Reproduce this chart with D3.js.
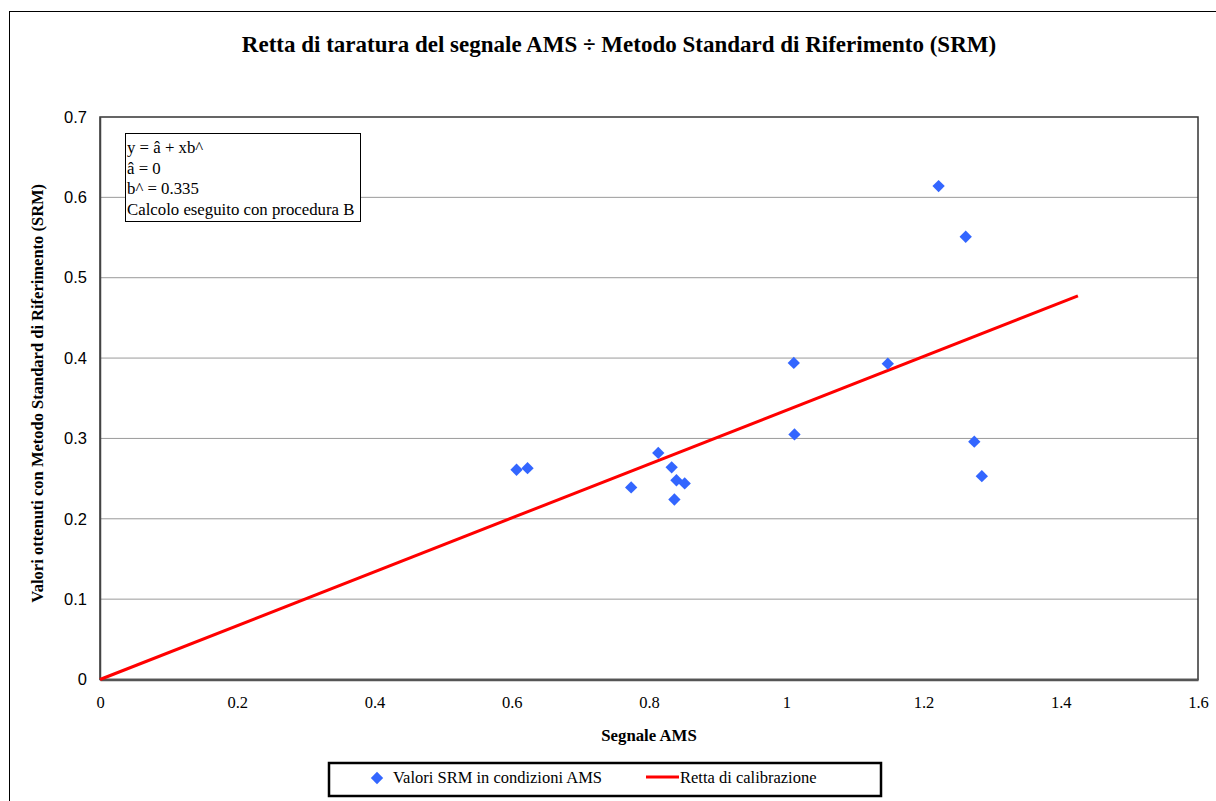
<!DOCTYPE html>
<html>
<head>
<meta charset="utf-8">
<script src="https://cdn.jsdelivr.net/npm/d3@7"></script>
<style>
  body { margin: 0; background: #fff; }
  svg { display: block; }
</style>
</head>
<body>
<svg id="chart" width="1216" height="801"></svg>
<script>
// ---- data ----
const signalAMS = [0.607, 0.623, 0.774, 0.8135, 0.833, 0.840, 0.852, 0.837, 1.011, 1.012, 1.148, 1.222, 1.2615, 1.274, 1.285];
const valuesSRM = [0.261, 0.263, 0.239, 0.282, 0.264, 0.248, 0.244, 0.224, 0.394, 0.305, 0.393, 0.614, 0.551, 0.296, 0.253];
const slope = 0.335;
const lineX = [0, 1.425];
const xTicks = [0, 0.2, 0.4, 0.6, 0.8, 1, 1.2, 1.4, 1.6];
const yTicks = [0, 0.1, 0.2, 0.3, 0.4, 0.5, 0.6, 0.7];
const noteLines = ["y = â + xb^", "â = 0", "b^ = 0.335", "Calcolo eseguito con procedura B"];
const legendLabels = ["Valori SRM in condizioni AMS", "Retta di calibrazione"];

const points = signalAMS.map((x, i) => ({ x: x, y: valuesSRM[i] }));
const fitLine = lineX.map(x => ({ x: x, y: slope * x }));

const serif = "'Liberation Serif', 'Times New Roman', serif";
const sans = "'Liberation Sans', Arial, sans-serif";

const svg = d3.select("#chart");

// outer chart frame
svg.append("rect")
    .attr("x", 9.5).attr("y", 11.5)
    .attr("width", 1230).attr("height", 820)
    .attr("fill", "#fff").attr("stroke", "#000").attr("stroke-width", 1);

const plot = { left: 100, right: 1198, top: 117, bottom: 679.5 };

const x = d3.scaleLinear().domain([0, 1.6]).range([plot.left, plot.right]);
const y = d3.scaleLinear().domain([0, 0.7]).range([plot.bottom, plot.top]);

// title
svg.append("text")
    .attr("x", 619).attr("y", 52)
    .attr("text-anchor", "middle")
    .attr("font-family", serif).attr("font-weight", "bold")
    .attr("font-size", 23)
    .text("Retta di taratura del segnale AMS ÷ Metodo Standard di Riferimento (SRM)");

// gridlines
svg.append("g")
    .selectAll("line")
    .data(yTicks.slice(1, -1))
    .join("line")
    .attr("x1", plot.left).attr("x2", plot.right)
    .attr("y1", d => y(d)).attr("y2", d => y(d))
    .attr("stroke", "#9a9a9a").attr("stroke-width", 1);

// plot border
svg.append("rect")
    .attr("x", plot.left).attr("y", plot.top)
    .attr("width", plot.right - plot.left).attr("height", plot.bottom - plot.top)
    .attr("fill", "none").attr("stroke", "#333").attr("stroke-width", 1.5);

// axes
const xAxis = svg.append("g")
    .attr("transform", `translate(0,${plot.bottom})`)
    .call(d3.axisBottom(x).tickValues(xTicks).tickSize(0).tickPadding(17).tickFormat(d3.format("~g")));
xAxis.select(".domain").attr("stroke", "#555").attr("stroke-width", 2.5);
xAxis.selectAll("text").attr("font-family", serif).attr("font-size", 16.5).attr("fill", "#000");

const yAxis = svg.append("g")
    .attr("transform", `translate(${plot.left},0)`)
    .call(d3.axisLeft(y).tickValues(yTicks).tickSize(0).tickPadding(13).tickFormat(d3.format("~g")));
yAxis.select(".domain").attr("stroke", "#444").attr("stroke-width", 1.5);
yAxis.selectAll("text").attr("font-family", sans).attr("font-size", 16.5).attr("fill", "#000");

// axis titles
svg.append("text")
    .attr("x", (plot.left + plot.right) / 2).attr("y", 741)
    .attr("text-anchor", "middle")
    .attr("font-family", serif).attr("font-weight", "bold").attr("font-size", 16.8)
    .text("Segnale AMS");

svg.append("text")
    .attr("transform", `translate(43,${(plot.top + plot.bottom) / 2 - 5}) rotate(-90)`)
    .attr("text-anchor", "middle")
    .attr("font-family", serif).attr("font-weight", "bold").attr("font-size", 16.5)
    .text("Valori ottenuti con Metodo Standard di Riferimento (SRM)");

// calibration line
svg.append("path")
    .datum(fitLine)
    .attr("d", d3.line().x(d => x(d.x)).y(d => y(d.y)))
    .attr("fill", "none").attr("stroke", "#ff0000").attr("stroke-width", 3);

// points
const diamond = d3.symbol().type(d3.symbolSquare).size(76);
svg.append("g")
    .selectAll("path")
    .data(points)
    .join("path")
    .attr("d", diamond)
    .attr("transform", d => `translate(${x(d.x)},${y(d.y)}) rotate(45)`)
    .attr("fill", "#3366ff");

// note box
const note = svg.append("g");
note.append("rect")
    .attr("x", 125.5).attr("y", 133.5).attr("width", 235).attr("height", 88)
    .attr("fill", "#fff").attr("stroke", "#000").attr("stroke-width", 1);
note.selectAll("text")
    .data(noteLines)
    .join("text")
    .attr("x", 127)
    .attr("y", (d, i) => 153 + i * 20.5)
    .attr("font-family", serif).attr("font-size", 16.8)
    .text(d => d);

// legend
const legend = svg.append("g");
legend.append("rect")
    .attr("x", 329).attr("y", 763).attr("width", 552).attr("height", 33)
    .attr("fill", "#fff").attr("stroke", "#000").attr("stroke-width", 2.5);
legend.append("path")
    .attr("d", diamond)
    .attr("transform", "translate(377,778) rotate(45)")
    .attr("fill", "#3366ff");
legend.append("text")
    .attr("x", 393).attr("y", 783)
    .attr("font-family", serif).attr("font-size", 16.5)
    .text(legendLabels[0]);
legend.append("line")
    .attr("x1", 646).attr("x2", 679).attr("y1", 777).attr("y2", 777)
    .attr("stroke", "#ff0000").attr("stroke-width", 3);
legend.append("text")
    .attr("x", 680).attr("y", 783)
    .attr("font-family", serif).attr("font-size", 16.5)
    .text(legendLabels[1]);
</script>
</body>
</html>
